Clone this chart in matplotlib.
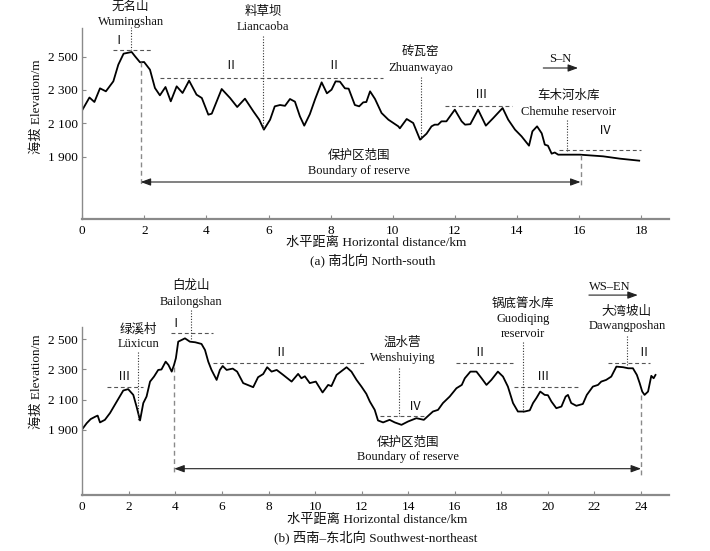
import matplotlib
matplotlib.use("Agg")
import matplotlib.pyplot as plt
from matplotlib.ticker import FuncFormatter

plt.rcParams['font.family'] = ['Liberation Serif', 'Noto Sans CJK SC', 'DejaVu Sans']

# ---------------- data: (a) North-south profile ----------------
dist_a = [0.0, 0.23, 0.39, 0.57, 0.76, 1.0, 1.16, 1.33, 1.59, 1.70, 1.86, 1.99, 2.18, 2.34,
          2.50, 2.68, 2.85, 3.04, 3.23, 3.44, 3.68, 3.85, 4.06, 4.17, 4.49, 4.76, 4.99, 5.24,
          5.51, 5.70, 5.85, 6.05, 6.20, 6.37, 6.53, 6.69, 6.85, 7.01, 7.15, 7.33, 7.50, 7.71,
          7.88, 8.03, 8.16, 8.30, 8.46, 8.58, 8.78, 8.92, 9.05, 9.15, 9.27, 9.43, 9.64, 9.86,
          10.18, 10.23, 10.45, 10.66, 10.88, 11.09, 11.25, 11.35, 11.46, 11.57, 11.73, 12.0,
          12.22, 12.33, 12.5, 12.75, 13.0, 13.24, 13.54, 13.72, 13.94, 14.15, 14.39, 14.5,
          14.65, 14.8, 14.9, 15.0, 15.12, 15.22, 15.33, 16.03, 16.78, 17.32, 17.94]
elev_a = [2180, 2255, 2228, 2310, 2292, 2352, 2452, 2518, 2528, 2502, 2466, 2468, 2422, 2312,
          2268, 2318, 2232, 2322, 2282, 2356, 2272, 2252, 2152, 2158, 2306, 2252, 2198, 2248,
          2172, 2122, 2062, 2122, 2202, 2210, 2205, 2246, 2230, 2142, 2086, 2155, 2245, 2346,
          2280, 2302, 2352, 2350, 2310, 2308, 2210, 2202, 2226, 2228, 2292, 2246, 2162, 2122,
          2082, 2070, 2126, 2102, 2002, 2038, 2082, 2092, 2092, 2112, 2112, 2182,
          2112, 2092, 2095, 2182, 2086, 2132, 2192, 2122, 2062, 2022, 1966, 2052,
          2082, 2040, 1972, 1966, 1918, 1925, 1912, 1912, 1902, 1888, 1876]

# ---------------- data: (b) Southwest-northeast profile ----------------
dist_b = [0.0, 0.19, 0.36, 0.57, 0.66, 0.76, 0.97, 1.19, 1.48, 1.76, 1.97, 2.19, 2.33, 2.48,
          2.62, 2.76, 2.91, 3.08, 3.26, 3.40, 3.58, 3.70, 3.84, 3.94, 4.02, 4.12, 4.41, 4.62,
          4.85, 5.12, 5.27, 5.41, 5.55, 5.77, 5.91, 6.03, 6.20, 6.46, 6.65, 6.91, 7.34, 7.55,
          7.77, 7.94, 8.13, 8.35, 8.63, 8.99, 9.27, 9.41, 9.56, 9.77, 10.03, 10.32, 10.56,
          10.70, 10.92, 11.35, 11.56, 11.78, 11.99, 12.2, 12.35, 12.56, 12.7, 12.92, 13.2,
          13.42, 13.71, 13.99, 14.35, 14.67, 14.86, 15.06, 15.28, 15.49, 15.78, 16.07, 16.3,
          16.43, 16.67, 16.93, 17.15, 17.36, 17.57, 17.85, 18.07, 18.28, 18.5, 18.71, 19.0,
          19.22, 19.36, 19.5, 19.67, 19.86, 20.0, 20.15, 20.36, 20.58, 20.76, 20.86, 21.0,
          21.22, 21.5, 21.67, 21.93, 22.15, 22.29, 22.5, 22.72, 22.94, 23.23, 23.45, 23.65,
          23.82, 23.94, 24.05, 24.15, 24.3, 24.44, 24.54, 24.62]
elev_b = [1906, 1945, 1972, 1989, 1995, 1950, 1967, 2012, 2088, 2161, 2170, 2132, 2055, 1963,
          2078, 2121, 2220, 2253, 2297, 2300, 2352, 2330, 2286, 2330, 2375, 2484, 2506, 2484,
          2480, 2469, 2429, 2352, 2297, 2231, 2297, 2323, 2297, 2306, 2286, 2210, 2183, 2249,
          2270, 2315, 2286, 2297, 2264, 2220, 2271, 2242, 2255, 2210, 2220, 2148, 2198,
          2190, 2264, 2315, 2286, 2231, 2187, 2139, 2088, 2033, 1963, 1950, 1967,
          1950, 1934, 1956, 1978, 1967, 1994, 2022, 2033, 2078, 2121, 2176, 2198,
          2242, 2286, 2286, 2242, 2198, 2231, 2286, 2253, 2187, 2078, 2022, 2022,
          2030, 2078, 2110, 2154, 2132, 2130, 2088, 2044, 2055, 2121, 2132, 2078,
          2060, 2072, 2132, 2187, 2198, 2220, 2231, 2253, 2319, 2315, 2308, 2308,
          2264, 2210, 2154, 2132, 2154, 2258, 2242, 2264]

yticks = [1900, 2100, 2300, 2500]
xticks_a = list(range(0, 19, 2))
xticks_b = list(range(0, 25, 2))

W, H = 710, 551
fig = plt.figure(figsize=(W / 100, H / 100), dpi=100)

FS = 9
GRAY = '#8a8a8a'
DASH = '#555555'


def px_axes(left, top, right, bottom):
    return fig.add_axes([left / W, 1 - bottom / H, (right - left) / W, (bottom - top) / H])


def style(ax, xticks):
    for s in ('top', 'right'):
        ax.spines[s].set_visible(False)
    ax.spines['bottom'].set_color(GRAY)
    ax.spines['bottom'].set_linewidth(1.6)
    ax.spines['left'].set_color(GRAY)
    ax.spines['left'].set_linewidth(1.0)
    ax.set_xticks(xticks)
    ax.set_yticks(yticks)
    ax.yaxis.set_major_formatter(FuncFormatter(lambda v, p: f"{int(v) // 1000} {int(v) % 1000:03d}"))
    ax.tick_params(axis='both', direction='in', color=GRAY, labelsize=FS + 0.5, length=3, width=0.8)
    ax.tick_params(axis='x', pad=4)
    ax.tick_params(axis='y', pad=3)


def hdash(ax, x0, x1, y):
    ax.plot([x0, x1], [y, y], ls=(0, (3.5, 2.5)), color=DASH, lw=0.8, clip_on=False)


def vdot(ax, x, y0, y1):
    ax.plot([x, x], [y0, y1], ls=(0, (1, 1.5)), color='#333333', lw=0.8, clip_on=False)


def vdash(ax, x, y0, y1):
    ax.plot([x, x], [y0, y1], ls=(0, (3.5, 2.5)), color=GRAY, lw=1.0, clip_on=False)


def txt(ax, x, y, s, fs=FS):
    ax.text(x, y, s, ha='center', va='center', fontsize=fs, color='#111111', clip_on=False)


def arrow(ax, x0, x1, y, style_):
    ax.annotate('', xy=(x1, y), xytext=(x0, y),
                arrowprops=dict(arrowstyle=style_ + ',head_length=0.6,head_width=0.22',
                                color='#222222', lw=0.8, shrinkA=0, shrinkB=0),
                annotation_clip=False)


# ---------------- panel (a) ----------------
ax1 = px_axes(82.3, 28, 669, 219)
ax1.set_xlim(0, 18.9)
ax1.set_ylim(1526, 2672)
style(ax1, xticks_a)
ax1.plot(dist_a, elev_a, color='black', lw=1.3)

hdash(ax1, 0.98, 2.27, 2542)
hdash(ax1, 2.5, 9.69, 2372)
hdash(ax1, 11.7, 13.83, 2206)
hdash(ax1, 15.36, 18.0, 1940)
txt(ax1, 1.16, 2592, 'Ⅰ')
txt(ax1, 4.79, 2442, 'Ⅱ')
txt(ax1, 8.08, 2442, 'Ⅱ')
txt(ax1, 12.86, 2268, 'Ⅲ')
txt(ax1, 16.83, 2052, 'Ⅳ')

vdot(ax1, 1.56, 2680, 2542)
vdot(ax1, 5.83, 2622, 2062)
vdot(ax1, 10.9, 2378, 2002)
vdot(ax1, 15.63, 2122, 1932)
txt(ax1, 1.56, 2798, '无名山')
txt(ax1, 1.56, 2706, 'Wumingshan')
txt(ax1, 5.83, 2766, '料草坝')
txt(ax1, 5.83, 2676, 'Liancaoba')
txt(ax1, 10.9, 2526, '砖瓦窑')
txt(ax1, 10.9, 2432, 'Zhuanwayao')
txt(ax1, 15.65, 2262, '车木河水库')
txt(ax1, 15.65, 2168, 'Chemuhe reservoir')

txt(ax1, 15.4, 2488, 'S–N')
arrow(ax1, 14.85, 15.97, 2432, '-|>')

vdash(ax1, 1.88, 2466, 1718)
vdash(ax1, 16.05, 1912, 1718)
arrow(ax1, 1.88, 16.05, 1748, '<|-|>')
txt(ax1, 8.9, 1906, '保护区范围')
txt(ax1, 8.9, 1812, 'Boundary of reserve')

# ---------------- panel (b) ----------------
ax2 = px_axes(82.3, 327.3, 669, 495)
ax2.set_xlim(0, 25.2)
ax2.set_ylim(1470, 2579)
style(ax2, xticks_b)
ax2.plot(dist_b, elev_b, color='black', lw=1.3)

hdash(ax2, 1.05, 2.62, 2183)
hdash(ax2, 3.79, 5.62, 2544)
hdash(ax2, 5.62, 12.13, 2341)
hdash(ax2, 12.78, 14.78, 1994)
hdash(ax2, 16.07, 18.5, 2341)
hdash(ax2, 18.53, 21.29, 2183)
hdash(ax2, 22.58, 24.37, 2345)
txt(ax2, 1.79, 2253, 'Ⅲ')
txt(ax2, 4.0, 2599, 'Ⅰ')
txt(ax2, 8.53, 2412, 'Ⅱ')
txt(ax2, 14.31, 2051, 'Ⅳ')
txt(ax2, 17.07, 2412, 'Ⅱ')
txt(ax2, 19.79, 2253, 'Ⅲ')
txt(ax2, 24.12, 2412, 'Ⅱ')

vdot(ax2, 2.4, 2418, 1963)
vdot(ax2, 4.67, 2693, 2495)
vdot(ax2, 13.6, 2309, 1994)
vdot(ax2, 18.93, 2484, 2022)
vdot(ax2, 23.39, 2522, 2319)
txt(ax2, 2.4, 2566, '绿溪村')
txt(ax2, 2.4, 2469, 'Lüxicun')
txt(ax2, 4.67, 2852, '白龙山')
txt(ax2, 4.67, 2744, 'Bailongshan')
txt(ax2, 13.75, 2474, '温水营')
txt(ax2, 13.75, 2375, 'Wenshuiying')
txt(ax2, 18.93, 2738, '锅底箐水库')
txt(ax2, 18.93, 2632, 'Guodiqing')
txt(ax2, 18.93, 2535, 'reservoir')
txt(ax2, 23.39, 2682, '大湾坡山')
txt(ax2, 23.39, 2588, 'Dawangposhan')

txt(ax2, 22.65, 2843, 'WS–EN')
arrow(ax2, 21.76, 23.86, 2792, '-|>')

vdash(ax2, 3.95, 2319, 1604)
vdash(ax2, 24.0, 2132, 1604)
arrow(ax2, 3.95, 24.0, 1644, '<|-|>')
txt(ax2, 14.0, 1818, '保护区范围')
txt(ax2, 14.0, 1719, 'Boundary of reserve')

# ---------------- figure texts ----------------
def ftext(px, py, s, rot=0):
    fig.text(px / W, 1 - py / H, s, ha='center', va='center', fontsize=FS + 0.5,
             rotation=rot, color='#111111')

ftext(37, 107, '海拔 Elevation/m', rot=90)
ftext(37, 381.7, '海拔 Elevation/m', rot=90)
ftext(376, 243.3, '水平距离 Horizontal distance/km')
ftext(372.5, 261.7, '(a) 南北向 North-south')
ftext(376.7, 520, '水平距离 Horizontal distance/km')
ftext(376, 538.3, '(b) 西南–东北向 Southwest-northeast')

fig.savefig('out.png', dpi=100)
